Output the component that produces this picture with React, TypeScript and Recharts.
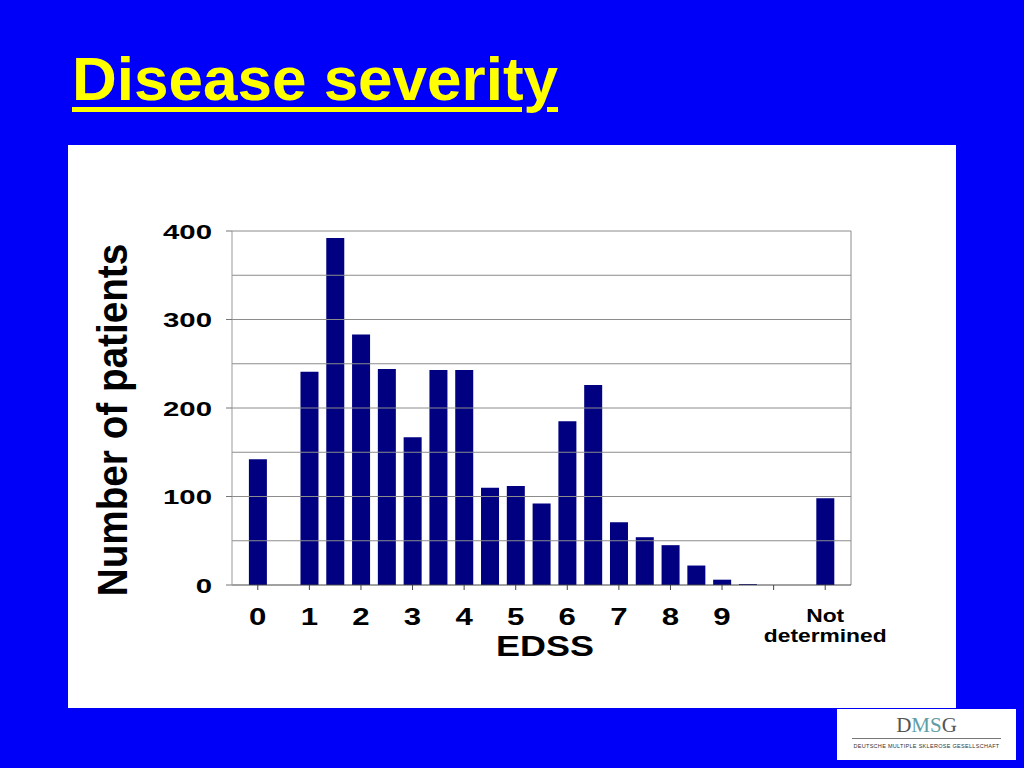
import React from "react";
import { BarChart, Bar, XAxis, YAxis, ReferenceLine } from "recharts";

// EDSS score of each bar; 11 stands for the "Not determined" slot
const edssScores = [0, 1, 1.5, 2, 2.5, 3, 3.5, 4, 4.5, 5, 5.5, 6, 6.5, 7, 7.5, 8, 8.5, 9, 9.5, 11];
const patientCounts = [142, 241, 392, 283, 244, 167, 243, 243, 110, 112, 92, 185, 226, 71, 54, 45, 22, 6, 1, 98];

const xTicks = [0, 1, 2, 3, 4, 5, 6, 7, 8, 9, 10, 11];
const xTickLabels = ["0", "1", "2", "3", "4", "5", "6", "7", "8", "9", "", "Not determined"];
const yTicks = [0, 100, 200, 300, 400];
const gridLevels = [50, 100, 150, 200, 250, 300, 350, 400];

const data = edssScores.map((edss, i) => ({ edss, patients: patientCounts[i] }));

const FONT = "'Liberation Sans', Arial, Helvetica, sans-serif";

function XTick(props: any) {
  const { x, y, payload } = props;
  const idx = xTicks.indexOf(payload.value);
  const label = xTickLabels[idx] ?? "";
  if (!label) return null;
  if (label.includes(" ")) {
    const [first, second] = label.split(" ");
    return (
      <g transform={`translate(${x},${y}) scale(1.2,1)`}>
        <text x={0} y={29} textAnchor="middle" fontFamily={FONT} fontWeight="bold" fontSize={19} fill="#000">
          {first}
        </text>
        <text x={0} y={49} textAnchor="middle" fontFamily={FONT} fontWeight="bold" fontSize={19} fill="#000">
          {second}
        </text>
      </g>
    );
  }
  return (
    <g transform={`translate(${x},${y}) scale(1.3,1)`}>
      <text x={0} y={32} textAnchor="middle" fontFamily={FONT} fontWeight="bold" fontSize={24} fill="#000">
        {label}
      </text>
    </g>
  );
}

function YTick(props: any) {
  const { x, y, payload } = props;
  return (
    <g transform={`translate(${x},${y}) scale(1.4,1)`}>
      <text x={0} y={7.5} textAnchor="end" fontFamily={FONT} fontWeight="bold" fontSize={21} fill="#000">
        {payload.value}
      </text>
    </g>
  );
}

export default function App() {
  return (
    <div
      style={{
        position: "fixed",
        left: 0,
        top: 0,
        width: 1024,
        height: 768,
        background: "#0000f8",
        overflow: "hidden",
      }}
    >
      <div
        style={{
          position: "absolute",
          left: 72,
          top: 48,
          fontFamily: FONT,
          fontWeight: "bold",
          fontSize: 62,
          lineHeight: "62px",
          color: "#ffff00",
          textDecoration: "underline",
          textDecorationThickness: 5,
          textUnderlineOffset: 7,
          whiteSpace: "nowrap",
        }}
      >
        Disease severity
      </div>

      <div
        style={{
          position: "absolute",
          left: 68,
          top: 145,
          width: 888,
          height: 563,
          background: "#ffffff",
        }}
      />

      <div style={{ position: "absolute", left: 0, top: 0 }}>
        <BarChart
          width={1024}
          height={768}
          data={data}
          margin={{ top: 231, right: 173, bottom: 143, left: 172 }}
        >
          {gridLevels.map((v) => (
            <ReferenceLine key={v} y={v} stroke="#8c8c8c" strokeWidth={1} ifOverflow="extendDomain" />
          ))}
          <ReferenceLine x={11.5} stroke="#8c8c8c" strokeWidth={1} />
          <XAxis
            type="number"
            dataKey="edss"
            domain={[-0.5, 11.5]}
            ticks={xTicks}
            interval={0}
            height={40}
            tickSize={5}
            tickMargin={3}
            axisLine={{ stroke: "#444", strokeWidth: 1 }}
            tickLine={{ stroke: "#444" }}
            tick={<XTick />}
          />
          <YAxis
            type="number"
            domain={[0, 400]}
            ticks={yTicks}
            width={60}
            tickSize={6}
            tickMargin={14}
            axisLine={{ stroke: "#999", strokeWidth: 1 }}
            tickLine={{ stroke: "#777" }}
            tick={<YTick />}
          />
          <Bar dataKey="patients" fill="#000080" barSize={18} isAnimationActive={false} />
        </BarChart>
      </div>

      <svg
        width={1024}
        height={768}
        style={{ position: "absolute", left: 0, top: 0, pointerEvents: "none" }}
      >
        <g transform="translate(545,656) scale(1.24,1)">
          <text x={0} y={0} textAnchor="middle" fontFamily={FONT} fontWeight="bold" fontSize={29} fill="#000">
            EDSS
          </text>
        </g>
        <g transform="translate(127,420) rotate(-90) scale(0.9,1)">
          <text x={0} y={0} textAnchor="middle" fontFamily={FONT} fontWeight="bold" fontSize={43} fill="#000">
            Number of patients
          </text>
        </g>
      </svg>

      <div
        style={{
          position: "absolute",
          left: 837,
          top: 709,
          width: 179,
          height: 51,
          background: "#ffffff",
        }}
      >
        <div
          style={{
            position: "absolute",
            left: 0,
            top: 5,
            width: 179,
            textAlign: "center",
            fontFamily: "'Liberation Serif', 'DejaVu Serif', serif",
            fontSize: 21,
            lineHeight: "22px",
            color: "#555",
          }}
        >
          D<span style={{ color: "#5f9ea5" }}>MS</span>G
        </div>
        <div
          style={{
            position: "absolute",
            left: 15,
            top: 29,
            width: 149,
            height: 1,
            background: "#777",
          }}
        />
        <div
          style={{
            position: "absolute",
            left: 0,
            top: 34,
            width: 179,
            textAlign: "center",
            fontFamily: FONT,
            fontSize: 5.5,
            letterSpacing: 0.3,
            color: "#333",
            whiteSpace: "nowrap",
          }}
        >
          DEUTSCHE MULTIPLE SKLEROSE GESELLSCHAFT
        </div>
      </div>
    </div>
  );
}
